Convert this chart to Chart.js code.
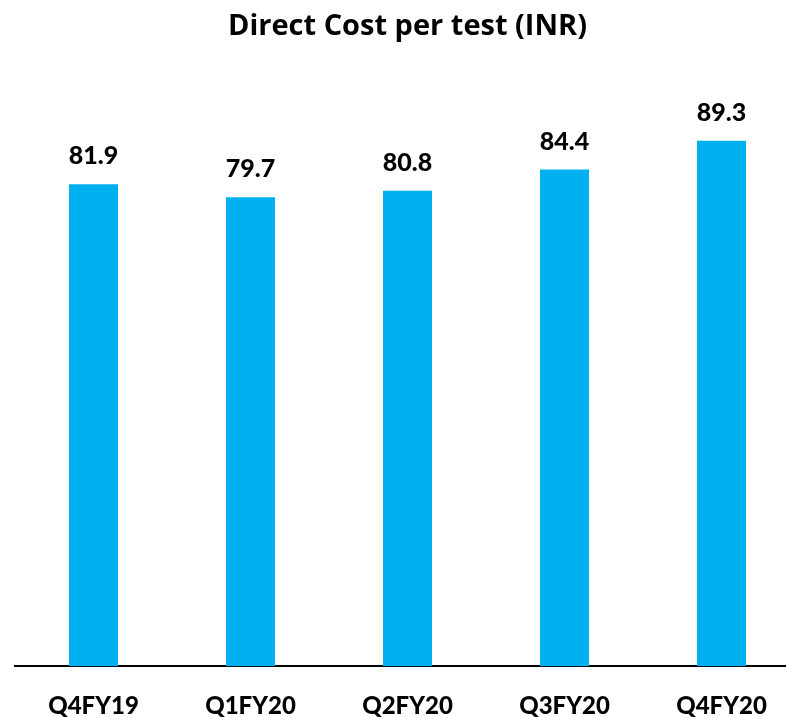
<!DOCTYPE html>
<html>
<head>
<meta charset="utf-8">
<script src="https://cdn.jsdelivr.net/npm/chart.js@4/dist/chart.umd.min.js"></script>
<style>
  html, body { margin: 0; padding: 0; background: #fff; overflow: hidden; }
  #wrap { width: 800px; height: 747px; }
</style>
</head>
<body>
<div id="wrap"><canvas id="chart" width="800" height="747"></canvas></div>
<script>
const quarters = ['Q4FY19', 'Q1FY20', 'Q2FY20', 'Q3FY20', 'Q4FY20'];
const costPerTest = [81.9, 79.7, 80.8, 84.4, 89.3];

const fontFamily = 'Lato, "Open Sans", sans-serif';
const titleFont = '"Open Sans", Lato, sans-serif';

// Draw value labels above each bar
const valueLabels = {
  id: 'valueLabels',
  afterDatasetsDraw(chart) {
    const ctx = chart.ctx;
    const meta = chart.getDatasetMeta(0);
    ctx.save();
    ctx.fillStyle = '#000';
    ctx.font = '900 25px ' + fontFamily;
    ctx.textAlign = 'center';
    ctx.textBaseline = 'middle';
    meta.data.forEach((bar, i) => {
      ctx.fillText(costPerTest[i].toFixed(1), bar.x, bar.y - 28);
    });
    ctx.restore();
  }
};

new Chart(document.getElementById('chart'), {
  type: 'bar',
  data: {
    labels: quarters,
    datasets: [{
      data: costPerTest,
      backgroundColor: '#00B0F0',
      borderWidth: 0,
      barPercentage: 0.312,
      categoryPercentage: 1
    }]
  },
  options: {
    responsive: false,
    animation: false,
    layout: { padding: { left: 15, right: 0, top: 0, bottom: 0 } },
    plugins: {
      legend: { display: false },
      tooltip: { enabled: false },
      title: {
        display: true,
        text: 'Direct Cost per test (INR)',
        color: '#000',
        font: { family: titleFont, size: 29, weight: 'bold' },
        padding: { top: 9, bottom: 34 }
      }
    },
    scales: {
      x: {
        grid: { display: false, drawTicks: false },
        border: { display: true, color: '#000', width: 2 },
        ticks: {
          color: '#000',
          padding: 26,
          font: { family: fontFamily, size: 24, weight: '900' }
        }
      },
      y: {
        display: false,
        min: 0,
        max: 100
      }
    }
  },
  plugins: [valueLabels]
});
</script>
</body>
</html>
